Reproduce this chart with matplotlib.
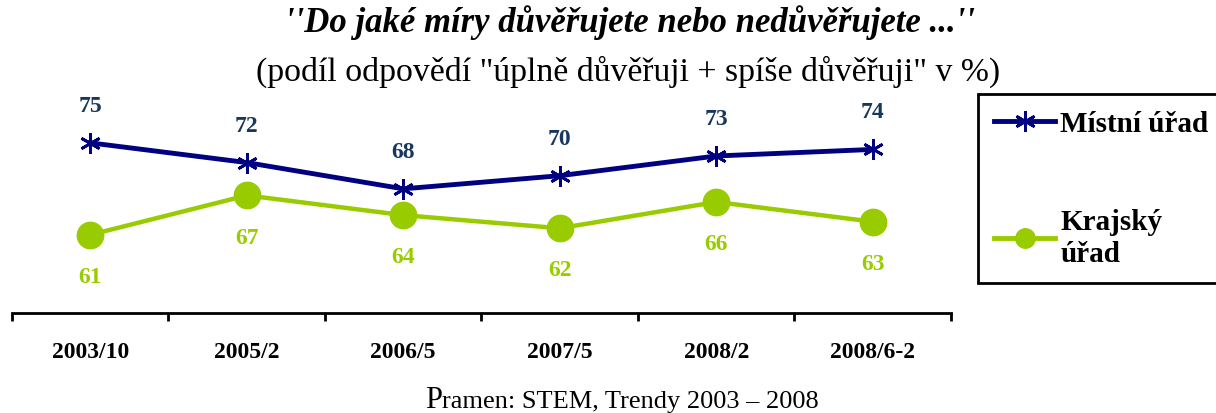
import matplotlib
matplotlib.use("Agg")
import matplotlib.pyplot as plt
from matplotlib.lines import Line2D

categories = ["2003/10", "2005/2", "2006/5", "2007/5", "2008/2", "2008/6-2"]
mistni = [75, 72, 68, 70, 73, 74]
krajsky = [61, 67, 64, 62, 66, 63]
series_names = ["Místní úřad", "Krajský\núřad"]

title = "''Do jaké míry důvěřujete nebo nedůvěřujete ...''"
subtitle = "(podíl odpovědí \"úplně důvěřuji + spíše důvěřuji\" v %)"
source_first = "P"
source_rest = "ramen: STEM, Trendy 2003 – 2008"

plt.rcParams['font.family'] = ['Liberation Serif', 'DejaVu Serif']

W, H = 1216, 414
fig = plt.figure(figsize=(W / 100, H / 100), dpi=100)
ax = fig.add_axes([12 / W, 1 - 314 / H, 939 / W, (314 - 111) / H])

navy = "#000080"
navy_lbl = "#17375E"
green = "#99CC00"

x = list(range(len(categories)))
ast = (6, 2, 0)
ax.plot(x, mistni, color=navy, lw=3.5, marker=ast, markersize=15,
        markeredgewidth=2, markeredgecolor=navy, clip_on=False, zorder=3)
ax.plot(x, krajsky, color=green, lw=3.2, marker='o', markersize=19,
        markeredgecolor=green, markerfacecolor=green, clip_on=False, zorder=3)

for xi, v in zip(x, mistni):
    ax.annotate(str(v), (xi, v), xytext=(0, 27), textcoords='offset points',
                ha='center', va='center', fontsize=17, fontweight='bold',
                color=navy_lbl, annotation_clip=False)
for xi, v in zip(x, krajsky):
    ax.annotate(str(v), (xi, v), xytext=(0, -30), textcoords='offset points',
                ha='center', va='center', fontsize=17, fontweight='bold',
                color=green, annotation_clip=False)

ax.set_xlim(-0.5, len(categories) - 0.5)
ax.set_ylim(49.1, 80)
for s in ['top', 'right', 'left']:
    ax.spines[s].set_visible(False)
ax.spines['bottom'].set_linewidth(2)
ax.set_yticks([])
ax.set_xticks(x)
ax.set_xticklabels(categories, fontsize=17, fontweight='bold')
ax.tick_params(axis='x', which='major', length=0, pad=20)
ax.set_xticks([i - 0.5 for i in range(len(categories) + 1)], minor=True)
ax.tick_params(axis='x', which='minor', length=6, width=2, direction='out')

fig.text(630 / W, 1 - 23 / H, title, ha='center', va='center',
         fontsize=25, fontweight='bold', fontstyle='italic')
fig.text(628 / W, 1 - 72 / H, subtitle, ha='center', va='center', fontsize=24.3)

# source line with enlarged first letter
r = fig.canvas.get_renderer()
t1 = fig.text(425 / W, 1 - 408 / H, source_first, ha='left', va='baseline', fontsize=22)
bb = t1.get_window_extent(renderer=r)
fig.text(bb.x1 / W, 1 - 408 / H, source_rest, ha='left', va='baseline', fontsize=19)

handles = [
    Line2D([], [], color=navy, lw=3.5, marker=ast, markersize=15, markeredgewidth=2),
    Line2D([], [], color=green, lw=3.5, marker='o', markersize=14),
]
leg = fig.legend(handles, series_names, loc='upper left',
                 bbox_to_anchor=(978 / W, 1 - 95 / H),
                 prop={'weight': 'bold', 'size': 21},
                 handlelength=2.1, handletextpad=0.17, labelspacing=2.45,
                 borderpad=0.55, borderaxespad=0, fancybox=False,
                 frameon=True, framealpha=1)
leg.get_frame().set_edgecolor('black')
leg.get_frame().set_linewidth(2)

fig.savefig("out.png", dpi=100)
